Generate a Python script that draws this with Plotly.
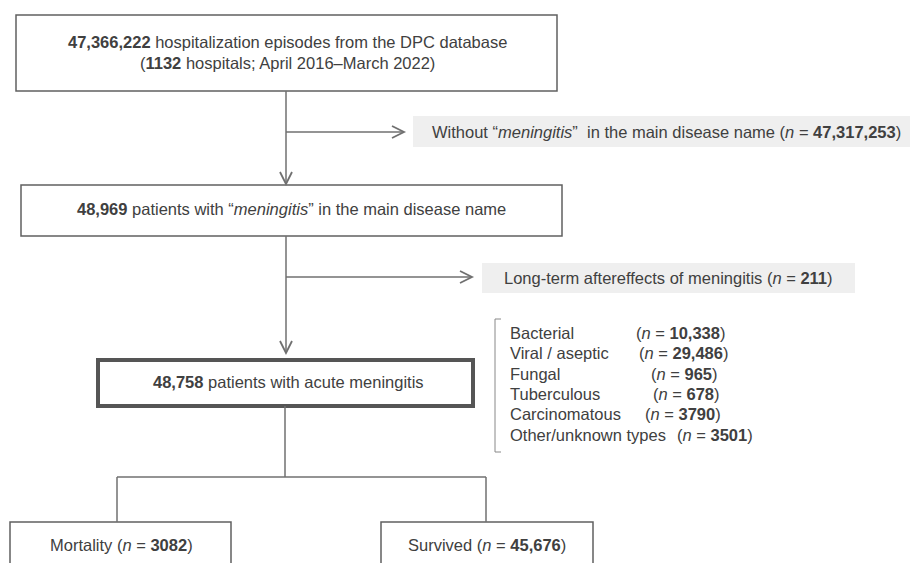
import plotly.graph_objects as go

# ---- data ----
total_episodes = "47,366,222"
n_hospitals = "1132"
period = "April 2016–March 2022"
excluded_no_meningitis = "47,317,253"
with_meningitis = "48,969"
excluded_longterm = "211"
acute = "48,758"
type_labels = ["Bacterial", "Viral / aseptic", "Fungal", "Tuberculous", "Carcinomatous", "Other/unknown types"]
type_counts = ["10,338", "29,486", "965", "678", "3790", "3501"]
outcome_labels = ["Mortality", "Survived"]
outcome_counts = ["3082", "45,676"]

# ---- layout constants ----
W, H = 918, 563
OFF = 8  # page body margin
TXT = "#404040"
LINE = "#707070"
FONT = "Liberation Sans, Arial, sans-serif"
FS = 16.5

fig = go.Figure()
shapes = []
ann = []

def rect(x0, y0, x1, y1, width=1.5, color="#606060", fill="rgba(0,0,0,0)"):
    shapes.append(dict(type="rect", x0=x0, y0=y0, x1=x1, y1=y1,
                       line=dict(color=color, width=width), fillcolor=fill, layer="below"))

def seg(x0, y0, x1, y1, width=1.5, color=LINE):
    shapes.append(dict(type="line", x0=x0, y0=y0, x1=x1, y1=y1,
                       line=dict(color=color, width=width)))

def chevron(x, y, direction):
    L, h = 12, 6
    if direction == "down":
        p = f"M {x-h},{y-L} L {x},{y} L {x+h},{y-L}"
    else:
        p = f"M {x-L},{y-h} L {x},{y} L {x-L},{y+h}"
    shapes.append(dict(type="path", path=p, line=dict(color=LINE, width=1.8)))

def text(x, y, s, anchor="center", size=FS):
    ann.append(dict(x=x, y=y, text=s, showarrow=False, xanchor=anchor, yanchor="middle",
                    font=dict(family=FONT, size=size, color=TXT)))

# Box 1
rect(16, 15, 557, 91)
text(287, 42, f"<b>{total_episodes}</b> hospitalization episodes from the DPC database")
text(287, 63, f"(<b>{n_hospitals}</b> hospitals; {period})")

# arrow box1 -> box2
seg(286, 91, 286, 184)
chevron(286, 184, "down")
# exclusion 1
seg(286, 132, 404, 132)
chevron(404, 132, "right")
shapes.append(dict(type="rect", x0=413, y0=116, x1=920, y1=147, line=dict(width=0),
                   fillcolor="#efefef", layer="below"))
text(430, 132, f"Without “<i>meningitis</i>”  in the main disease name (<i>n</i> = <b>{excluded_no_meningitis}</b>)", anchor="left")

# Box 2
rect(21, 185, 562, 236)
text(291, 209, f"<b>{with_meningitis}</b> patients with “<i>meningitis</i>” in the main disease name")

# arrow box2 -> box3
seg(286, 236, 286, 353)
chevron(286, 353, "down")
# exclusion 2
seg(286, 277, 472, 277)
chevron(472, 277, "right")
shapes.append(dict(type="rect", x0=482, y0=263, x1=855, y1=293, line=dict(width=0),
                   fillcolor="#efefef", layer="below"))
text(502, 278, f"Long-term aftereffects of meningitis (<i>n</i> = <b>{excluded_longterm}</b>)", anchor="left")

# Box 3 (thick)
rect(98, 360, 473, 406, width=4, color="#555555")
text(288, 382, f"<b>{acute}</b> patients with acute meningitis")

# type list with bracket
shapes.append(dict(type="path", path="M 501,319 L 495,319 L 495,452 L 501,452",
                   line=dict(color="#888888", width=1)))
n_x = [634, 637, 649, 651, 643, 675]
for i, (lab, cnt) in enumerate(zip(type_labels, type_counts)):
    yy = 333 + i * 20.3
    text(508, yy, lab, anchor="left")
    text(n_x[i], yy, f"(<i>n</i> = <b>{cnt}</b>)", anchor="left")

# split to outcomes
seg(285, 406, 285, 477)
seg(117, 477, 486, 477)
seg(117, 477, 117, 522)
seg(486, 477, 486, 522)
rect(10, 522, 231, 575)
rect(381, 522, 593, 575)
text(121, 545, f"{outcome_labels[0]} (<i>n</i> = <b>{outcome_counts[0]}</b>)")
text(487, 545, f"{outcome_labels[1]} (<i>n</i> = <b>{outcome_counts[1]}</b>)")

fig.update_layout(
    width=W - OFF, height=H - OFF, margin=dict(l=0, r=0, t=0, b=0),
    paper_bgcolor="white", plot_bgcolor="white",
    xaxis=dict(range=[OFF, W], visible=False, fixedrange=True),
    yaxis=dict(range=[H, OFF], visible=False, fixedrange=True),
    shapes=shapes, annotations=ann, showlegend=False,
)
fig.write_html("out.html", config={"displayModeBar": False})
